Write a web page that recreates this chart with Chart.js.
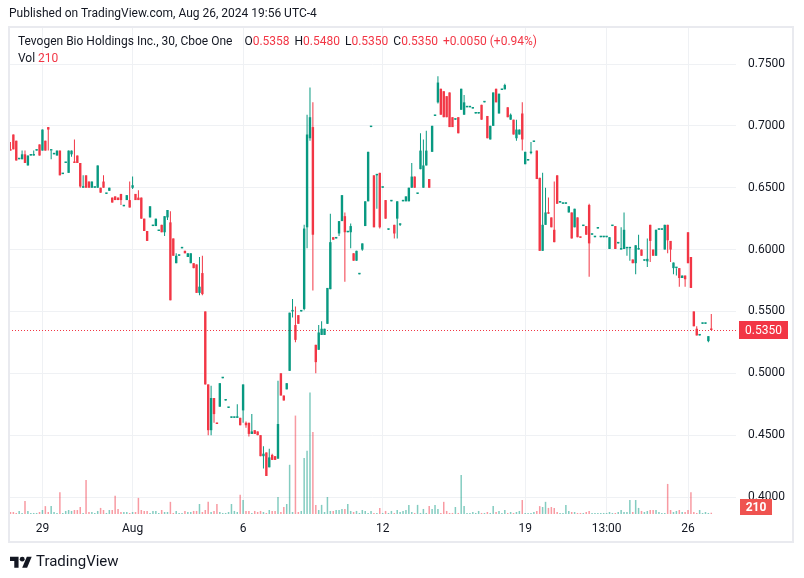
<!DOCTYPE html>
<html>
<head>
<meta charset="utf-8">
<script src="https://cdn.jsdelivr.net/npm/chart.js@4.4.1/dist/chart.umd.min.js"></script>
<style>
  html, body { margin: 0; padding: 0; background: #fff; }
  body { width: 804px; height: 578px; position: relative; overflow: hidden;
         font-family: Roboto, "Liberation Sans", sans-serif; color: #131722; }
  #c { position: absolute; left: 0; top: 0; }
  #frame { position: absolute; left: 8px; top: 26px; width: 786px; height: 517px;
           box-sizing: border-box; border: 2px solid #e9eaef; pointer-events: none; }
  #pub { position: absolute; left: 9px; top: 6px; font-size: 12px; white-space: nowrap; }
  #legend { position: absolute; left: 18px; top: 34px; font-size: 12px; white-space: nowrap; }
  #legend span { margin-left: 5px; }
  #legend span:first-child { margin-left: 0; margin-right: 4px; }
  #vol { position: absolute; left: 18px; top: 51px; font-size: 12px; }
  .r { color: #f23645; }
  #logo { position: absolute; left: 10px; top: 552px; display: flex; align-items: center; }
  #logo span { font-size: 15px; margin-left: 4px; color: #131722; }
</style>
</head>
<body>
<canvas id="c" width="804" height="578"></canvas>
<div id="frame"></div>
<div id="pub">Published on TradingView.com, Aug 26, 2024 19:56 UTC-4</div>
<div id="legend"><span>Tevogen Bio Holdings Inc., 30, Cboe One</span> <span>O<b class="r" style="font-weight:normal">0.5358</b></span><span>H<b class="r" style="font-weight:normal">0.5480</b></span><span>L<b class="r" style="font-weight:normal">0.5350</b></span><span>C<b class="r" style="font-weight:normal">0.5350</b></span><span class="r">+0.0050 (+0.94%)</span></div>
<div id="vol">Vol <span class="r">210</span></div>
<div id="logo">
  <svg width="22" height="14" viewBox="0 0 36 22">
    <path d="M14 22H7V11H0V4h14z" fill="#131722"/>
    <circle cx="20" cy="8" r="4" fill="#131722"/>
    <path d="M28 22h-8l7.5-18h8z" fill="#131722"/>
  </svg>
  <span>TradingView</span>
</div>
<script>
// 30 min candles [open, high, low, close]
const ohlc = [
  [0.681,0.687,0.680,0.680],[0.693,0.693,0.681,0.681],[0.688,0.688,0.672,0.672],[0.673,0.673,0.673,0.673],[0.673,0.680,0.673,0.677],
  [0.677,0.680,0.670,0.670],[0.668,0.676,0.668,0.676],[0.676,0.676,0.676,0.676],[0.676,0.680,0.676,0.676],[0.680,0.680,0.680,0.680],
  [0.685,0.685,0.676,0.676],[0.680,0.697,0.680,0.697],[0.688,0.688,0.680,0.680],[0.699,0.699,0.680,0.697],[0.680,0.680,0.673,0.680],
  [0.677,0.677,0.677,0.677],[0.676,0.680,0.676,0.680],[0.680,0.680,0.660,0.660],[0.661,0.661,0.661,0.661],[0.670,0.670,0.670,0.670],
  [0.662,0.680,0.662,0.680],[0.677,0.680,0.675,0.680],[0.671,0.689,0.670,0.670],[0.676,0.676,0.670,0.670],[0.670,0.670,0.650,0.651],
  [0.650,0.660,0.650,0.650],[0.660,0.660,0.650,0.650],[0.655,0.655,0.650,0.650],[0.650,0.655,0.650,0.655],[0.650,0.650,0.650,0.650],
  [0.650,0.668,0.650,0.668],[0.650,0.650,0.646,0.646],[0.655,0.660,0.650,0.650],[0.645,0.645,0.645,0.645],[0.6475,0.650,0.6475,0.650],
  [0.642,0.642,0.638,0.638],[0.643,0.643,0.640,0.640],[0.642,0.642,0.640,0.640],[0.645,0.645,0.636,0.640],[0.635,0.635,0.635,0.635],
  [0.640,0.644,0.640,0.644],[0.640,0.655,0.634,0.634],[0.650,0.659,0.649,0.652],[0.645,0.645,0.640,0.640],[0.642,0.648,0.640,0.640],
  [0.642,0.642,0.625,0.625],[0.625,0.625,0.615,0.615],[0.615,0.615,0.607,0.607],[0.626,0.635,0.626,0.635],[0.619,0.619,0.619,0.619],
  [0.619,0.625,0.619,0.625],[0.615,0.615,0.615,0.615],[0.620,0.620,0.614,0.614],[0.614,0.627,0.611,0.627],[0.626,0.632,0.624,0.632],
  [0.622,0.631,0.559,0.559],[0.609,0.609,0.595,0.595],[0.589,0.597,0.589,0.595],[0.595,0.595,0.595,0.595],[0.601,0.601,0.601,0.601],
  [0.599,0.599,0.597,0.597],[0.594,0.597,0.594,0.597],[0.589,0.597,0.589,0.597],[0.589,0.589,0.585,0.585],[0.588,0.588,0.565,0.565],
  [0.565,0.594,0.563,0.570],[0.581,0.595,0.563,0.564],[0.550,0.550,0.491,0.491],[0.491,0.491,0.450,0.454],[0.454,0.490,0.450,0.480],
  [0.480,0.480,0.460,0.467],[0.460,0.460,0.459,0.459],[0.473,0.492,0.473,0.492],[0.496,0.496,0.496,0.496],[0.478,0.478,0.478,0.478],
  [0.472,0.472,0.472,0.472],[0.464,0.464,0.464,0.464],[0.464,0.464,0.464,0.464],[0.464,0.475,0.464,0.464],[0.464,0.464,0.458,0.458],
  [0.470,0.491,0.460,0.491],[0.460,0.461,0.456,0.458],[0.460,0.460,0.449,0.451],[0.451,0.467,0.451,0.453],[0.454,0.454,0.451,0.451],
  [0.453,0.453,0.450,0.450],[0.450,0.450,0.433,0.433],[0.433,0.441,0.423,0.435],[0.436,0.436,0.417,0.417],[0.424,0.439,0.424,0.432],
  [0.434,0.435,0.430,0.430],[0.433,0.433,0.430,0.430],[0.431,0.494,0.431,0.459],[0.500,0.500,0.482,0.482],[0.482,0.482,0.478,0.478],
  [0.487,0.492,0.487,0.492],[0.502,0.549,0.502,0.549],[0.550,0.560,0.545,0.550],[0.539,0.554,0.525,0.527],[0.547,0.547,0.540,0.540],
  [0.550,0.550,0.550,0.550],[0.552,0.620,0.551,0.617],[0.618,0.709,0.601,0.693],[0.690,0.731,0.688,0.707],[0.699,0.719,0.567,0.612],
  [0.523,0.523,0.500,0.509],[0.519,0.539,0.519,0.533],[0.531,0.542,0.531,0.536],[0.531,0.536,0.531,0.536],[0.540,0.569,0.540,0.569],
  [0.568,0.629,0.568,0.606],[0.610,0.610,0.608,0.608],[0.609,0.609,0.609,0.609],[0.613,0.623,0.611,0.623],[0.623,0.644,0.623,0.644],
  [0.627,0.630,0.574,0.614],[0.614,0.614,0.614,0.614],[0.614,0.621,0.601,0.619],[0.597,0.597,0.591,0.591],[0.591,0.599,0.591,0.599],
  [0.580,0.580,0.580,0.580],[0.600,0.605,0.599,0.605],[0.619,0.639,0.619,0.639],[0.639,0.679,0.639,0.679],[0.699,0.699,0.699,0.699],
  [0.660,0.660,0.618,0.618],[0.660,0.661,0.633,0.661],[0.662,0.662,0.617,0.618],[0.650,0.650,0.650,0.650],[0.640,0.640,0.625,0.625],
  [0.616,0.616,0.616,0.616],[0.639,0.639,0.639,0.639],[0.620,0.620,0.609,0.613],[0.625,0.639,0.609,0.639],[0.620,0.621,0.619,0.620],
  [0.639,0.639,0.639,0.639],[0.639,0.643,0.639,0.643],[0.639,0.650,0.639,0.650],[0.650,0.670,0.650,0.659],[0.659,0.659,0.650,0.650],
  [0.645,0.645,0.645,0.645],[0.665,0.694,0.665,0.680],[0.650,0.689,0.650,0.668],[0.668,0.696,0.668,0.680],[0.657,0.657,0.650,0.650],
  [0.679,0.700,0.679,0.700],[0.708,0.708,0.708,0.708],[0.719,0.740,0.718,0.735],[0.730,0.730,0.709,0.709],[0.728,0.728,0.707,0.707],
  [0.724,0.724,0.707,0.707],[0.727,0.727,0.699,0.699],[0.707,0.707,0.699,0.699],[0.705,0.705,0.705,0.705],[0.707,0.707,0.694,0.694],
  [0.713,0.730,0.713,0.730],[0.709,0.725,0.709,0.719],[0.715,0.715,0.715,0.715],[0.715,0.715,0.715,0.715],[0.714,0.714,0.714,0.714],
  [0.710,0.710,0.710,0.710],[0.710,0.710,0.710,0.710],[0.717,0.717,0.705,0.705],[0.719,0.719,0.719,0.719],[0.708,0.708,0.690,0.690],
  [0.689,0.700,0.689,0.700],[0.700,0.727,0.700,0.727],[0.730,0.730,0.719,0.719],[0.710,0.726,0.710,0.726],[0.729,0.729,0.729,0.729],
  [0.7295,0.734,0.7295,0.733],[0.715,0.715,0.707,0.707],[0.705,0.710,0.705,0.709],[0.705,0.705,0.693,0.693],[0.690,0.705,0.688,0.697],
  [0.693,0.697,0.693,0.697],[0.710,0.719,0.680,0.689],[0.669,0.679,0.669,0.679],[0.672,0.672,0.672,0.672],[0.678,0.687,0.677,0.678],
  [0.687,0.687,0.687,0.687],[0.680,0.680,0.657,0.657],[0.658,0.658,0.599,0.599],[0.599,0.662,0.599,0.620],[0.620,0.650,0.620,0.630],
  [0.630,0.642,0.629,0.629],[0.626,0.626,0.618,0.618],[0.616,0.655,0.606,0.606],[0.660,0.660,0.637,0.637],[0.638,0.638,0.638,0.638],
  [0.637,0.637,0.637,0.637],[0.637,0.638,0.637,0.637],[0.630,0.635,0.630,0.635],[0.630,0.630,0.609,0.609],[0.618,0.633,0.618,0.633],
  [0.626,0.626,0.610,0.610],[0.610,0.610,0.6095,0.6095],[0.619,0.619,0.619,0.619],[0.619,0.619,0.612,0.612],[0.636,0.637,0.578,0.605],
  [0.612,0.612,0.612,0.612],[0.610,0.610,0.610,0.610],[0.617,0.617,0.617,0.617],[0.610,0.610,0.610,0.610],[0.610,0.610,0.610,0.610],
  [0.610,0.610,0.610,0.610],[0.6005,0.610,0.6005,0.610],[0.619,0.619,0.619,0.619],[0.619,0.619,0.6005,0.6005],[0.605,0.605,0.605,0.605],
  [0.600,0.618,0.600,0.601],[0.6005,0.630,0.6005,0.616],[0.601,0.601,0.595,0.601],[0.601,0.601,0.591,0.601],[0.592,0.592,0.589,0.589],
  [0.589,0.6035,0.580,0.6035],[0.600,0.612,0.600,0.600],[0.600,0.600,0.595,0.595],[0.591,0.591,0.591,0.591],[0.5905,0.609,0.586,0.5925],
  [0.620,0.620,0.590,0.607],[0.600,0.600,0.595,0.595],[0.595,0.616,0.595,0.616],[0.616,0.616,0.616,0.616],[0.616,0.616,0.616,0.616],
  [0.600,0.620,0.600,0.620],[0.620,0.620,0.597,0.6075],[0.607,0.607,0.590,0.600],[0.585,0.5895,0.580,0.5895],[0.585,0.585,0.579,0.585],
  [0.585,0.585,0.570,0.577],[0.577,0.579,0.577,0.579],[0.579,0.579,0.570,0.576],[0.614,0.614,0.589,0.589],[0.594,0.594,0.569,0.569],
  [0.550,0.550,0.538,0.538],[0.536,0.538,0.5306,0.5306],[0.5306,0.5306,0.5306,0.5306],[0.540,0.540,0.540,0.540],[0.540,0.540,0.540,0.540],
  [0.526,0.530,0.525,0.530],[0.5358,0.548,0.535,0.535]
];

// volume per candle (shares)
const volumes = [
  330,330,170,500,170,2150,500,170,170,170,
  330,660,1300,330,1300,330,170,3600,170,500,
  660,500,660,660,1150,170,5600,330,330,170,
  500,1000,660,170,660,660,3000,830,330,330,
  330,170,330,330,2650,660,500,500,170,500,
  500,170,660,330,330,2000,170,500,170,170,
  500,330,330,500,500,1650,330,660,2000,330,
  500,1650,330,170,170,330,1650,500,330,3150,
  2300,500,500,170,500,330,500,330,170,660,
  500,500,2800,330,1150,1650,8100,330,16200,330,
  500,9200,10400,20000,13500,1500,660,1500,330,2800,
  500,500,660,660,830,830,1650,500,330,500,
  170,660,500,170,500,170,170,1000,170,500,
  170,500,170,660,330,500,660,1500,330,170,
  1500,170,830,170,1300,830,1500,830,170,2000,
  500,170,170,1150,170,6400,1300,170,170,330,
  170,500,170,170,330,170,1300,330,500,170,
  660,170,330,170,330,500,2300,170,170,170,
  330,500,1300,1150,2000,1000,1150,1000,330,170,
  170,1500,500,330,330,170,170,170,330,500,
  170,170,170,170,170,170,330,170,170,330,
  660,330,330,2300,330,2300,1000,500,330,500,
  660,660,660,330,170,170,4950,660,330,500,
  660,330,330,660,3600,330,170,660,170,330,
  170,210
];

const slotCount = 250;               // candle slots incl. right margin
const tickIdx = [11, 42, 80, 128, 177, 205, 233];
const tickText = ['29', 'Aug', '6', '12', '19', '13:00', '26'];
const priceTicks = [0.40, 0.45, 0.50, 0.55, 0.60, 0.65, 0.70, 0.75];
const lastPrice = 0.5350;
const lastVolume = '210';

const UP = '#089981', DOWN = '#f23645';
const isUp = k => k[3] >= k[0];

const labels = Array.from({ length: slotCount }, (_, i) => String(i));
const bodies = ohlc.map(k => [Math.min(k[0], k[3]), Math.max(k[0], k[3])]);
const wicks = ohlc.map(k => [k[2], k[1]]);
const candleColors = ohlc.map(k => isUp(k) ? UP : DOWN);
const volColors = ohlc.map(k => isUp(k) ? 'rgba(8,153,129,0.5)' : 'rgba(242,54,69,0.5)');

const overlay = {
  id: 'overlay',
  beforeDraw(chart) {
    const c = chart.ctx;
    c.save();
    c.fillStyle = '#fff';
    c.fillRect(0, 0, chart.width, chart.height);
    c.restore();
  },
  beforeDatasetsDraw(chart) {
    const { ctx, chartArea: a, scales } = chart;
    const y = Math.round(scales.y.getPixelForValue(lastPrice)) + 0.5;
    ctx.save();
    ctx.strokeStyle = DOWN;
    ctx.lineWidth = 1;
    ctx.setLineDash([1, 2]);
    ctx.beginPath();
    ctx.moveTo(a.left, y);
    ctx.lineTo(a.right, y);
    ctx.stroke();
    ctx.restore();
  },
  afterDraw(chart) {
    const { ctx, chartArea: a, scales } = chart;
    const y = Math.round(scales.y.getPixelForValue(lastPrice));
    ctx.save();
    ctx.fillStyle = DOWN;
    ctx.fillRect(a.right + 3, y - 9, 49, 18);
    ctx.fillStyle = '#fff';
    ctx.font = '12px Roboto, sans-serif';
    ctx.textAlign = 'center';
    ctx.textBaseline = 'middle';
    ctx.fillText(lastPrice.toFixed(4), a.right + 27.5, y + 1);
    // volume label
    ctx.fillStyle = '#ef5350';
    ctx.fillRect(a.right + 4, a.bottom - 15, 32, 16);
    ctx.fillStyle = '#fff';
    ctx.font = 'bold 12px Roboto, sans-serif';
    ctx.fillText(lastVolume, a.right + 20, a.bottom - 6);
    ctx.restore();
  }
};

new Chart(document.getElementById('c'), {
  type: 'bar',
  data: {
    labels,
    datasets: [
      {
        label: 'body',
        data: bodies,
        backgroundColor: candleColors,
        barThickness: 2.4,
        minBarLength: 1.5,
        inflateAmount: 0,
        grouped: false,
        yAxisID: 'y',
        order: 0
      },
      {
        label: 'wick',
        data: wicks,
        backgroundColor: candleColors,
        barThickness: 1,
        minBarLength: 1,
        inflateAmount: 0,
        grouped: false,
        yAxisID: 'y',
        order: 1
      },
      {
        label: 'volume',
        data: volumes,
        backgroundColor: volColors,
        barThickness: 1.5,
        inflateAmount: 0,
        grouped: false,
        yAxisID: 'v',
        order: 2
      }
    ]
  },
  options: {
    responsive: false,
    devicePixelRatio: 1,
    animation: false,
    layout: { padding: { left: 9, top: 28, right: 10, bottom: 35 } },
    plugins: { legend: { display: false }, tooltip: { enabled: false } },
    scales: {
      x: {
        type: 'category',
        offset: true,
        border: { display: false },
        grid: {
          offset: false,
          drawTicks: false,
          color: ctx => tickIdx.includes(ctx.index) ? '#eff1f4' : 'rgba(0,0,0,0)'
        },
        ticks: {
          autoSkip: false,
          maxRotation: 0,
          padding: 8,
          color: '#131722',
          font: { size: 12, family: 'Roboto, sans-serif' },
          callback: (v, i) => {
            const p = tickIdx.indexOf(i);
            return p >= 0 ? tickText[p] : '';
          }
        },
        afterFit: s => { s.height = 29; }
      },
      y: {
        position: 'right',
        min: 0.38626,
        max: 0.77910,
        border: { display: false },
        grid: { color: '#eff1f4', drawTicks: false },
        ticks: {
          padding: 12,
          color: '#131722',
          font: { size: 12, family: 'Roboto, sans-serif' },
          callback: v => Number(v).toFixed(4)
        },
        afterBuildTicks: s => { s.ticks = priceTicks.map(v => ({ value: v })); },
        afterFit: s => { s.width = 58; }
      },
      v: {
        display: false,
        min: 0,
        max: 80000
      }
    }
  },
  plugins: [overlay]
});
</script>
</body>
</html>
